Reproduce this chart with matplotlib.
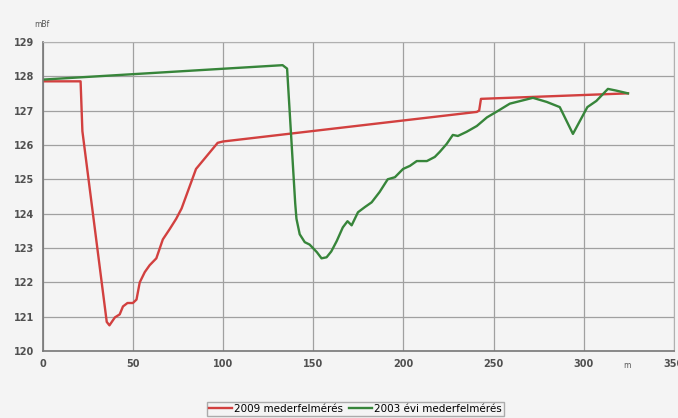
import matplotlib.pyplot as plt

# 2009 survey (red)
x_2009 = [0, 21, 22, 35.5, 37, 40, 42.7, 44.5, 47, 50, 52, 53.8, 56.6, 59.3, 63,
          66.6, 70.4, 74, 77, 85, 91, 97, 100, 105, 240.7, 242, 243, 324.5]
y_2009 = [127.85, 127.85, 126.4, 120.85, 120.75, 120.98, 121.07, 121.3, 121.4, 121.4,
          121.5, 122.0, 122.3, 122.5, 122.7, 123.25, 123.55, 123.85, 124.15, 125.3,
          125.68, 126.06, 126.1, 126.13, 126.96, 127.0, 127.34, 127.5]

# 2003 survey (green)
x_2003 = [0, 133, 135.5, 140, 140.7, 142.5, 145.3, 148, 152, 154.6, 157.4, 160, 163,
          166.4, 169, 171.3, 174.8, 178.6, 182.4, 186.8, 191.3, 195.3, 199.8, 203.6,
          207.4, 213, 217.4, 220.2, 224, 227.4, 230.2, 235, 240.7, 246.3, 251.8, 259,
          271.8, 279.5, 286.7, 294, 302, 307, 313.4, 318, 324.5]
y_2003 = [127.9, 128.32, 128.22, 124.3, 123.85, 123.4, 123.17, 123.1, 122.88, 122.7,
          122.73, 122.9, 123.2, 123.6, 123.78, 123.66, 124.04, 124.19, 124.33, 124.63,
          125.0, 125.06, 125.3, 125.39, 125.53, 125.53, 125.65, 125.8, 126.03, 126.29,
          126.26, 126.38, 126.55, 126.8, 126.97, 127.2, 127.37, 127.25, 127.1, 126.32,
          127.1, 127.28, 127.63, 127.58, 127.5]

bg = "#f4f4f4"
fig = plt.figure(figsize=(6.78, 4.18), dpi=100, facecolor=bg)
ax = fig.add_axes([0.063, 0.16, 0.931, 0.74], facecolor=bg)

ax.plot(x_2009, y_2009, color="#d2403f", lw=1.7, label="2009 mederfelmérés")
ax.plot(x_2003, y_2003, color="#37853a", lw=1.7, label="2003 évi mederfelmérés")

ax.set_xlim(0, 350)
ax.set_ylim(120, 129)
ax.set_xticks(range(0, 351, 50))
ax.set_yticks(range(120, 130))
ax.grid(True, color="#a0a0a0", lw=0.9)
ax.tick_params(length=0, labelsize=7, labelcolor="#505050", pad=6)
for lab in ax.get_xticklabels() + ax.get_yticklabels():
    lab.set_fontweight("bold")
for s in ["top", "right"]:
    ax.spines[s].set_color("#b0b0b0")
for s in ["left", "bottom"]:
    ax.spines[s].set_color("#777777")
    ax.spines[s].set_linewidth(1.2)

# axis units
fig.text(0.05, 0.935, "mBf", fontsize=5.5, color="#555555")
ax.text(324, 119.5, "m", fontsize=5.5, color="#555555", ha="center")

fig.legend(loc="lower center", bbox_to_anchor=(0.524, -0.008), ncol=2, fontsize=7.5,
           frameon=True, fancybox=False, edgecolor="#999999", facecolor=bg,
           handlelength=2.2, handletextpad=0.2, columnspacing=0.6,
           borderpad=0.2)

plt.savefig("out.png", dpi=100, facecolor=bg)
